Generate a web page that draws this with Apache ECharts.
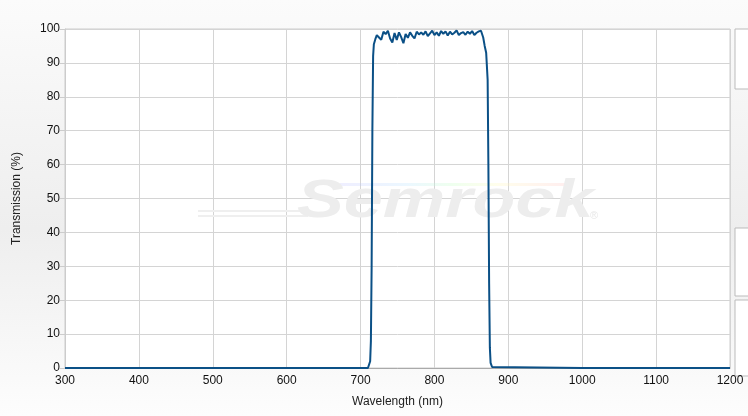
<!DOCTYPE html>
<html><head><meta charset="utf-8">
<script src="https://cdn.jsdelivr.net/npm/echarts@6/dist/echarts.min.js"></script>
<style>html,body{margin:0;padding:0;}#c{width:748px;height:416px;}</style>
</head><body><div id="c"></div>
<script>
const wavelengths = [300, 500, 700, 710, 712, 713, 714, 715, 716, 717, 718, 720, 722, 725, 728, 731, 734, 737, 740, 743, 746, 749, 752, 755, 758, 761, 764, 767, 770, 773, 776, 779, 782, 785, 788, 791, 794, 797, 800, 803, 806, 809, 812, 815, 818, 821, 824, 827, 830, 833, 836, 839, 842, 845, 848, 851, 854, 857, 860, 863, 866, 868, 870, 872, 873, 874, 875, 876, 878, 880, 1000, 1200];
const transmission = [0, 0, 0, 0, 0.5, 2, 8, 30, 70, 92, 95.5, 97, 98.2, 97.5, 96.8, 99.2, 98.5, 99.5, 97.2, 96, 98.8, 96.8, 99, 97.6, 95.8, 98.5, 97.4, 99, 98, 97.2, 99.2, 98.4, 99, 98.3, 99.3, 97.9, 98.7, 99.5, 98.2, 99, 98, 99.4, 98.6, 99.3, 98.1, 99.2, 98.4, 98.9, 99.6, 98.2, 98.8, 99.1, 98.3, 99.2, 98.6, 99.4, 98.2, 98.9, 99.3, 99.5, 97.5, 95, 93, 85, 60, 25, 6, 1.5, 0.3, 0, 0, 0];
const xTicks = [300, 400, 500, 600, 700, 800, 900, 1000, 1100, 1200];
const yTicks = [0, 10, 20, 30, 40, 50, 60, 70, 80, 90, 100];

const chart = echarts.init(document.getElementById('c'));
chart.setOption({
  animation: false,
  backgroundColor: {
    type: 'linear', x: 0, y: 0, x2: 0, y2: 1,
    colorStops: [{offset: 0, color: '#fbfbfb'}, {offset: 0.55, color: '#eeeeee'}, {offset: 1, color: '#fdfdfd'}]
  },
  grid: {left: 65, right: 18, top: 29, bottom: 48, show: true, backgroundColor: '#ffffff', borderColor: '#cccccc', borderWidth: 1},
  xAxis: {
    type: 'value', min: xTicks[0], max: xTicks[xTicks.length - 1], interval: 100,
    name: 'Wavelength (nm)', nameLocation: 'middle', nameGap: 28,
    nameTextStyle: {color: '#222', fontSize: 12, fontFamily: 'Liberation Sans, Arial, sans-serif'},
    axisLine: {lineStyle: {color: '#aaaaaa'}}, axisTick: {show: false},
    axisLabel: {color: '#111', fontSize: 12, margin: 7, formatter: v => String(v), fontFamily: 'Liberation Sans, Arial, sans-serif'},
    splitLine: {show: true, lineStyle: {color: '#d4d4d4'}}
  },
  yAxis: {
    type: 'value', min: yTicks[0], max: yTicks[yTicks.length - 1], interval: 10,
    name: 'Transmission (%)', nameLocation: 'middle', nameGap: 42,
    nameTextStyle: {color: '#222', fontSize: 12, fontFamily: 'Liberation Sans, Arial, sans-serif'},
    axisLine: {show: true, lineStyle: {color: '#cccccc'}},
    axisTick: {show: true, length: 5, inside: false, lineStyle: {color: '#cccccc'}},
    axisLabel: {color: '#111', fontSize: 12, margin: 5, fontFamily: 'Liberation Sans, Arial, sans-serif'},
    splitLine: {show: true, lineStyle: {color: '#d4d4d4'}}
  },
  graphic: [
    {type: 'rect', z: 1, shape: {x: 198, y: 215, width: 110, height: 2}, style: {fill: '#efefef'}},
    {type: 'rect', z: 1, shape: {x: 198, y: 210, width: 110, height: 2}, style: {fill: '#efefef'}},
    {type: 'rect', z: 1, shape: {x: 340, y: 183, width: 225, height: 3},
      style: {fill: {type: 'linear', x: 0, y: 0, x2: 1, y2: 0, colorStops: [
        {offset: 0, color: 'rgba(190,190,255,0.25)'}, {offset: 0.3, color: 'rgba(190,230,255,0.3)'},
        {offset: 0.5, color: 'rgba(200,255,200,0.3)'}, {offset: 0.7, color: 'rgba(255,250,190,0.3)'},
        {offset: 1, color: 'rgba(255,200,200,0.3)'}]}}},
    {type: 'text', z: 1, x: 297, y: 175, scaleX: 1.3, scaleY: 1,
      style: {text: 'Semrock', fill: '#ededed', font: 'italic bold 54px "Liberation Sans", Arial, sans-serif'}},
    {type: 'text', z: 1, x: 590, y: 210, style: {text: '®', fill: '#e8e8e8', font: '11px "Liberation Sans", Arial, sans-serif'}},
    {type: 'rect', shape: {x: 735, y: 29, width: 20, height: 60}, style: {fill: '#ffffff', stroke: '#bbbbbb', lineWidth: 1}},
    {type: 'rect', shape: {x: 735, y: 228, width: 20, height: 68}, style: {fill: '#ffffff', stroke: '#bbbbbb', lineWidth: 1}},
    {type: 'rect', shape: {x: 735, y: 300, width: 20, height: 76}, style: {fill: '#ffffff', stroke: '#bbbbbb', lineWidth: 1}}
  ],
  series: [{
    type: 'line', showSymbol: false, z: 5,
    data: wavelengths.map((w, i) => [w, transmission[i]]),
    lineStyle: {color: '#0b5086', width: 2},
    itemStyle: {color: '#0b5086'}
  }]
});
</script></body></html>
